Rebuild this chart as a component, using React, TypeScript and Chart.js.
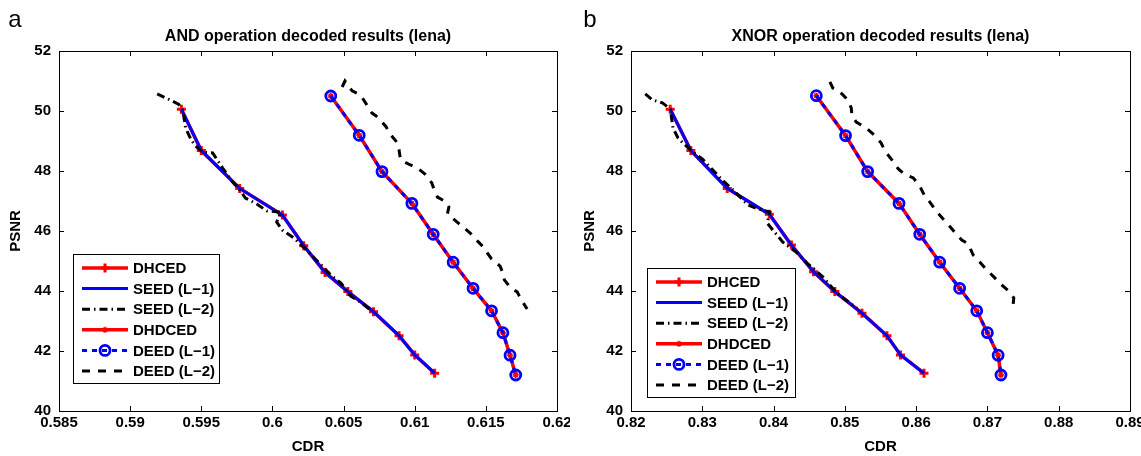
import React, { useEffect, useRef } from "react";
import { Chart, registerables } from "chart.js";
import { drawPoint } from "chart.js/helpers";

Chart.register(...registerables);

const FONT = "'Liberation Sans', Arial, Helvetica, sans-serif";
const RED = "#ff0000";
const BLUE = "#0000ff";

const seriesLabels = ["DHCED", "SEED (L\u22121)", "SEED (L\u22122)", "DHDCED", "DEED (L\u22121)", "DEED (L\u22122)"];

const yTicks = [40, 42, 44, 46, 48, 50, 52];
const andXTicks = [0.585, 0.59, 0.595, 0.6, 0.605, 0.61, 0.615, 0.62];
const xnorXTicks = [0.82, 0.83, 0.84, 0.85, 0.86, 0.87, 0.88, 0.89];

// ---------- AND operation (lena) ----------
const andDhcedX = [0.5936, 0.595, 0.5977, 0.6007, 0.6022, 0.6037, 0.6053, 0.6071, 0.6089, 0.61, 0.6114];
const andDhcedY = [50.06, 48.68, 47.42, 46.53, 45.51, 44.62, 43.98, 43.31, 42.51, 41.87, 41.26];
const andSeedL1X = [0.5936, 0.595, 0.5977, 0.6007, 0.6022, 0.6037, 0.6053, 0.6071, 0.6089, 0.61, 0.6114];
const andSeedL1Y = [50.06, 48.68, 47.42, 46.53, 45.51, 44.62, 43.98, 43.31, 42.51, 41.87, 41.26];
const andSeedL2X = [0.5919, 0.5928, 0.5934, 0.5937, 0.5939, 0.5943, 0.5946, 0.5951, 0.5958, 0.5965, 0.5972, 0.5977, 0.5981, 0.5989, 0.5996, 0.6006, 0.6003, 0.6007, 0.6015, 0.6021, 0.6028, 0.6035, 0.6041, 0.6048, 0.6055, 0.6062, 0.607];
const andSeedL2Y = [50.57, 50.37, 50.23, 50.03, 49.43, 49.03, 48.83, 48.63, 48.6, 48.1, 47.63, 47.37, 47.1, 46.9, 46.67, 46.63, 46.3, 46.03, 45.77, 45.5, 45.17, 44.83, 44.53, 44.27, 43.83, 43.63, 43.33];
const andDhdcedX = [0.6041, 0.6061, 0.6077, 0.6098, 0.6113, 0.6127, 0.6141, 0.6154, 0.6162, 0.6167, 0.6171];
const andDhdcedY = [50.5, 49.19, 47.98, 46.92, 45.89, 44.96, 44.09, 43.34, 42.61, 41.86, 41.2];
const andDeedL1X = [0.6041, 0.6061, 0.6077, 0.6098, 0.6113, 0.6127, 0.6141, 0.6154, 0.6162, 0.6167, 0.6171];
const andDeedL1Y = [50.5, 49.19, 47.98, 46.92, 45.89, 44.96, 44.09, 43.34, 42.61, 41.86, 41.2];
const andDeedL2X = [0.6049, 0.6051, 0.6056, 0.6062, 0.6066, 0.607, 0.6074, 0.608, 0.6082, 0.6088, 0.6089, 0.609, 0.6097, 0.6102, 0.6108, 0.6112, 0.6114, 0.6116, 0.6122, 0.6124, 0.6123, 0.6128, 0.6134, 0.6139, 0.6144, 0.6149, 0.6151, 0.6154, 0.616, 0.6162, 0.6163, 0.6167, 0.6172, 0.6175, 0.6179];
const andDeedL2Y = [50.8, 51.0, 50.67, 50.53, 50.23, 49.93, 49.8, 49.47, 49.27, 48.93, 48.7, 48.37, 48.2, 48.1, 47.87, 47.6, 47.33, 47.13, 46.97, 46.8, 46.57, 46.37, 46.13, 45.93, 45.67, 45.43, 45.27, 45.07, 44.83, 44.6, 44.37, 44.13, 43.97, 43.7, 43.4];

// ---------- XNOR operation (lena) ----------
const xnorDhcedX = [0.8255, 0.8284, 0.8335, 0.8394, 0.8425, 0.8456, 0.8486, 0.8524, 0.8559, 0.8578, 0.8611];
const xnorDhcedY = [50.06, 48.68, 47.42, 46.56, 45.53, 44.64, 43.98, 43.26, 42.51, 41.87, 41.26];
const xnorSeedL1X = [0.8255, 0.8284, 0.8335, 0.8394, 0.8425, 0.8456, 0.8486, 0.8524, 0.8559, 0.8578, 0.8611];
const xnorSeedL1Y = [50.06, 48.68, 47.42, 46.56, 45.53, 44.64, 43.98, 43.26, 42.51, 41.87, 41.26];
const xnorSeedL2X = [0.822, 0.823, 0.8244, 0.8255, 0.8259, 0.8266, 0.8273, 0.8287, 0.83, 0.8311, 0.8328, 0.8343, 0.8364, 0.8378, 0.8395, 0.8391, 0.8399, 0.8413, 0.8433, 0.8447, 0.8458, 0.8469, 0.8489, 0.8507, 0.8517];
const xnorSeedL2Y = [50.57, 50.37, 50.27, 50.07, 49.43, 49.1, 48.93, 48.63, 48.4, 48.13, 47.7, 47.37, 46.87, 46.73, 46.63, 46.27, 46.03, 45.63, 45.27, 44.93, 44.7, 44.47, 43.93, 43.6, 43.43];
const xnorDhdcedX = [0.846, 0.8501, 0.8532, 0.8576, 0.8605, 0.8633, 0.8661, 0.8685, 0.87, 0.8715, 0.8719];
const xnorDhdcedY = [50.51, 49.18, 47.98, 46.92, 45.89, 44.96, 44.09, 43.34, 42.61, 41.86, 41.2];
const xnorDeedL1X = [0.846, 0.8501, 0.8532, 0.8576, 0.8605, 0.8633, 0.8661, 0.8685, 0.87, 0.8715, 0.8719];
const xnorDeedL1Y = [50.51, 49.18, 47.98, 46.92, 45.89, 44.96, 44.09, 43.34, 42.61, 41.86, 41.2];
const xnorDeedL2X = [0.8479, 0.8483, 0.8496, 0.8504, 0.8509, 0.851, 0.8516, 0.853, 0.8541, 0.8551, 0.8556, 0.8566, 0.8575, 0.8583, 0.8596, 0.8605, 0.8612, 0.8619, 0.8628, 0.8639, 0.8648, 0.8655, 0.8664, 0.8673, 0.868, 0.8687, 0.8699, 0.8709, 0.872, 0.873, 0.8737, 0.8736, 0.8734];
const xnorDeedL2Y = [50.97, 50.77, 50.57, 50.37, 50.1, 49.83, 49.63, 49.43, 49.2, 48.93, 48.67, 48.37, 48.07, 47.9, 47.77, 47.5, 47.17, 46.97, 46.67, 46.37, 46.13, 45.93, 45.7, 45.57, 45.2, 45.03, 44.7, 44.47, 44.2, 44.0, 43.77, 43.53, 43.4];

const zip = (xs: number[], ys: number[]) => xs.map((x, i) => ({ x, y: ys[i] }));

const font = (size: number, weight: any = "bold") => ({ family: FONT, size, weight });

function buildDatasets(s: number[][][]) {
  return [
    { label: seriesLabels[0], data: zip(s[0][0], s[0][1]), borderColor: RED, borderWidth: 3.5, pointStyle: "cross", pointRadius: 4.5, pointBorderWidth: 3, pointBorderColor: RED, pointBackgroundColor: RED, order: 6 },
    { label: seriesLabels[1], data: zip(s[1][0], s[1][1]), borderColor: BLUE, borderWidth: 3, pointRadius: 0, order: 5 },
    { label: seriesLabels[2], data: zip(s[2][0], s[2][1]), borderColor: "#000", borderWidth: 3, borderDash: [8, 4, 1.5, 4], pointRadius: 0, order: 4 },
    { label: seriesLabels[3], data: zip(s[3][0], s[3][1]), borderColor: RED, borderWidth: 3.5, pointStyle: "star", pointRadius: 3, pointBorderWidth: 1.5, pointBorderColor: RED, pointBackgroundColor: RED, order: 3 },
    { label: seriesLabels[4], data: zip(s[4][0], s[4][1]), borderColor: BLUE, borderWidth: 3, borderDash: [5, 5], pointStyle: "circle", pointRadius: 5, pointBorderWidth: 2.8, pointBorderColor: BLUE, pointBackgroundColor: "rgba(0,0,0,0)", order: 2 },
    { label: seriesLabels[5], data: zip(s[5][0], s[5][1]), borderColor: "#000", borderWidth: 3, borderDash: [8, 8], pointRadius: 0, order: 1 },
  ].map((d) => ({ ...d, showLine: true, tension: 0, fill: false, pointHoverRadius: 0 }));
}

const boxPlugin = {
  id: "matlabBox",
  afterDatasetsDraw(chart: any) {
    const { ctx, chartArea } = chart;
    const { left, right, top, bottom } = chartArea;
    const xs = chart.scales.x;
    const ys = chart.scales.y;
    ctx.save();
    ctx.strokeStyle = "#000";
    ctx.lineWidth = 1;
    ctx.setLineDash([]);
    ctx.strokeRect(left + 0.5, top + 0.5, right - left, bottom - top);
    ctx.beginPath();
    xs.ticks.forEach((t: any) => {
      const px = Math.round(xs.getPixelForValue(t.value)) + 0.5;
      ctx.moveTo(px, bottom);
      ctx.lineTo(px, bottom - 5);
      ctx.moveTo(px, top);
      ctx.lineTo(px, top + 5);
    });
    ys.ticks.forEach((t: any) => {
      const py = Math.round(ys.getPixelForValue(t.value)) + 0.5;
      ctx.moveTo(left, py);
      ctx.lineTo(left + 5, py);
      ctx.moveTo(right, py);
      ctx.lineTo(right - 5, py);
    });
    ctx.stroke();
    ctx.restore();
  },
};

const legendPlugin = {
  id: "matlabLegend",
  afterDraw(chart: any, _args: any, opts: any) {
    const { ctx } = chart;
    const { x, y, w, h, panel, panelX, panelY } = opts;
    ctx.save();
    ctx.fillStyle = "#fff";
    ctx.fillRect(x, y, w, h);
    ctx.strokeStyle = "#000";
    ctx.lineWidth = 1;
    ctx.setLineDash([]);
    ctx.strokeRect(x + 0.5, y + 0.5, w, h);
    chart.data.datasets.forEach((ds: any, i: number) => {
      const cy = y + 14 + i * 20.6;
      ctx.beginPath();
      ctx.setLineDash(ds.borderDash || []);
      ctx.strokeStyle = ds.borderColor;
      ctx.lineWidth = ds.borderWidth;
      ctx.moveTo(x + 9, cy);
      ctx.lineTo(x + 55, cy);
      ctx.stroke();
      ctx.setLineDash([]);
      if (ds.pointRadius > 0) {
        ctx.strokeStyle = ds.pointBorderColor;
        ctx.fillStyle = ds.pointBackgroundColor;
        ctx.lineWidth = ds.pointBorderWidth;
        drawPoint(ctx, { pointStyle: ds.pointStyle, rotation: 0, radius: ds.pointRadius, borderWidth: ds.pointBorderWidth }, x + 32, cy);
      }
      ctx.fillStyle = "#000";
      ctx.font = `bold 15px ${FONT}`;
      ctx.textAlign = "left";
      ctx.textBaseline = "middle";
      ctx.fillText(ds.label, x + 60, cy + 1);
    });
    ctx.font = `24px ${FONT}`;
    ctx.fillStyle = "#000";
    ctx.textAlign = "center";
    ctx.textBaseline = "alphabetic";
    ctx.fillText(panel, panelX, panelY);
    ctx.restore();
  },
};

function makeChart(canvas: HTMLCanvasElement, cfg: any) {
  return new Chart(canvas, {
    type: "scatter",
    data: { datasets: buildDatasets(cfg.series) as any },
    plugins: [boxPlugin, legendPlugin],
    options: {
      responsive: false,
      animation: false,
      events: [],
      layout: { padding: { left: 0, right: cfg.padRight, top: 0, bottom: 0 } },
      plugins: {
        legend: { display: false },
        tooltip: { enabled: false },
        title: {
          display: true,
          text: cfg.title,
          color: "#000",
          font: font(16),
          fullSize: false,
          padding: { top: 27, bottom: 4.8 },
        },
        matlabLegend: cfg.legend,
      } as any,
      scales: {
        x: {
          type: "linear",
          min: cfg.xTicks[0],
          max: cfg.xTicks[cfg.xTicks.length - 1],
          afterBuildTicks: (s: any) => {
            s.ticks = cfg.xTicks.map((v: number) => ({ value: v }));
          },
          afterFit: (s: any) => {
            s.height = 45;
            s.paddingLeft = 0;
            s.paddingRight = 0;
          },
          ticks: { autoSkip: false, maxRotation: 0, minRotation: 0, padding: 3, color: "#000", font: font(15), callback: (v: any) => String(v) },
          grid: { display: false, drawTicks: false },
          border: { display: false },
          title: { display: true, text: "CDR", color: "#000", font: font(15), padding: { top: 0, bottom: 0 } },
        },
        y: {
          type: "linear",
          min: yTicks[0],
          max: yTicks[yTicks.length - 1],
          afterBuildTicks: (s: any) => {
            s.ticks = yTicks.map((v) => ({ value: v }));
          },
          afterFit: (s: any) => {
            s.width = cfg.areaLeft;
            s.paddingTop = 0;
            s.paddingBottom = 0;
          },
          ticks: { autoSkip: false, padding: 8, color: "#000", font: font(15), callback: (v: any) => String(v) },
          grid: { display: false, drawTicks: false },
          border: { display: false },
          title: { display: true, text: "PSNR", color: "#000", font: font(15), padding: { top: cfg.yTitlePad, bottom: 0 } },
        },
      } as any,
    },
  });
}

export default function App() {
  const leftRef = useRef<HTMLCanvasElement>(null);
  const rightRef = useRef<HTMLCanvasElement>(null);

  useEffect(() => {
    const c1 = makeChart(leftRef.current as HTMLCanvasElement, {
      title: "AND operation decoded results (lena)",
      xTicks: andXTicks,
      areaLeft: 59,
      padRight: 13,
      yTitlePad: 7,
      series: [
        [andDhcedX, andDhcedY],
        [andSeedL1X, andSeedL1Y],
        [andSeedL2X, andSeedL2Y],
        [andDhdcedX, andDhdcedY],
        [andDeedL1X, andDeedL1Y],
        [andDeedL2X, andDeedL2Y],
      ],
      legend: { x: 73, y: 254, w: 146, h: 129, panel: "a", panelX: 15, panelY: 27 },
    });
    const c2 = makeChart(rightRef.current as HTMLCanvasElement, {
      title: "XNOR operation decoded results (lena)",
      xTicks: xnorXTicks,
      areaLeft: 61,
      padRight: 11,
      yTitlePad: 11,
      series: [
        [xnorDhcedX, xnorDhcedY],
        [xnorSeedL1X, xnorSeedL1Y],
        [xnorSeedL2X, xnorSeedL2Y],
        [xnorDhdcedX, xnorDhdcedY],
        [xnorDeedL1X, xnorDeedL1Y],
        [xnorDeedL2X, xnorDeedL2Y],
      ],
      legend: { x: 77, y: 268, w: 148, h: 129, panel: "b", panelX: 20, panelY: 27 },
    });
    return () => {
      c1.destroy();
      c2.destroy();
    };
  }, []);

  return (
    <div style={{ position: "fixed", left: 0, top: 0, width: 1141, height: 456, background: "#fff", overflow: "hidden" }}>
      <canvas ref={leftRef} width={570} height={456} style={{ position: "absolute", left: 0, top: 0 }} />
      <canvas ref={rightRef} width={571} height={456} style={{ position: "absolute", left: 570, top: 0 }} />
    </div>
  );
}
